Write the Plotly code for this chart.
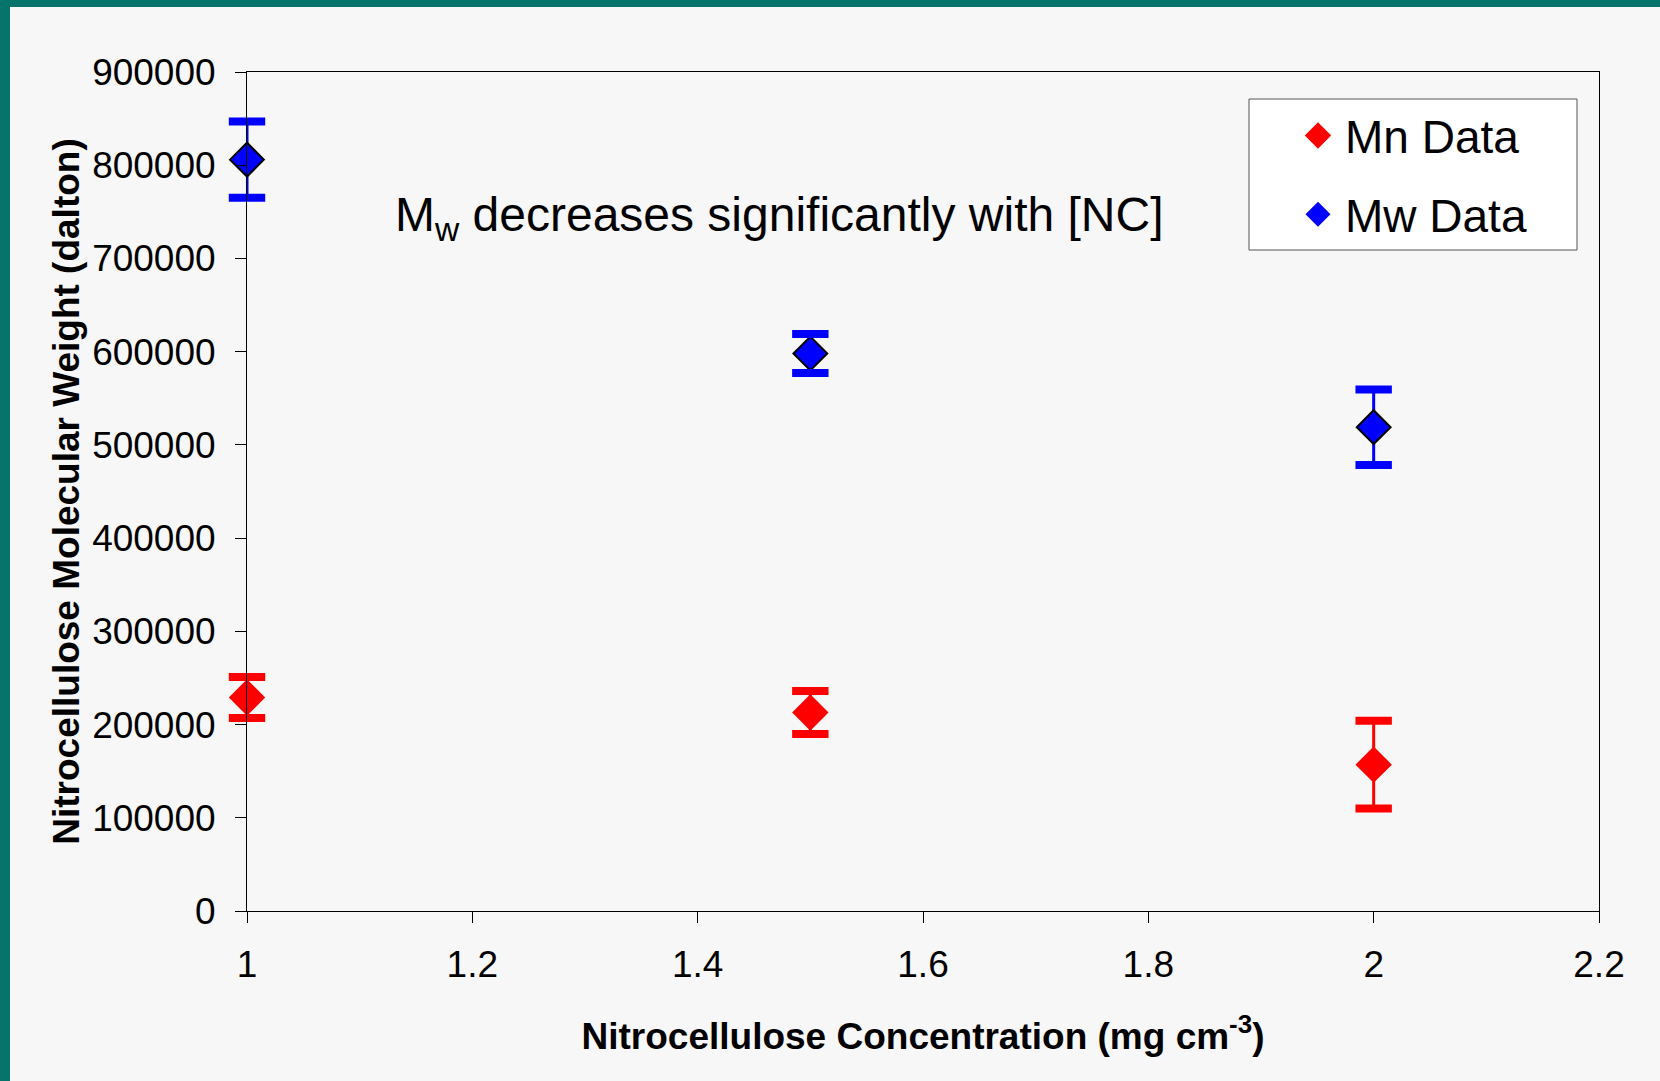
import plotly.graph_objects as go

# Nitrocellulose concentration (mg cm^-3)
conc = [1.0, 1.5, 2.0]

# Number-average molecular weight (dalton) and its error
mn = [229000, 213000, 157000]
mn_err = [22000, 23000, 47000]

# Weight-average molecular weight (dalton) and its error
mw = [806000, 598000, 519000]
mw_err = [41000, 21000, 40500]

x_ticks = [1.0, 1.2, 1.4, 1.6, 1.8, 2.0, 2.2]
x_tick_text = ["1", "1.2", "1.4", "1.6", "1.8", "2", "2.2"]
y_ticks = [0, 100000, 200000, 300000, 400000, 500000, 600000, 700000, 800000, 900000]

FONT = "Arial, Liberation Sans, sans-serif"
RED = "#ff0000"
BLUE = "#0000ff"
BG = "#f7f7f7"
TEAL = "#05756b"

# plot area geometry in pixels, used to place paper-referenced boxes
W, H = 1660, 1081
ML, MR, MT, MB = 247, 61, 72, 170
PW, PH = W - ML - MR, H - MT - MB


def px_x(px):
    return (px - ML) / PW


def px_y(py):
    return (H - MB - py) / PH


fig = go.Figure()


def add_series(y, err, color, outline, name):
    # diamonds with thin error stems
    fig.add_trace(go.Scatter(
        x=conc, y=y, mode="markers", name=name, showlegend=False,
        cliponaxis=False,
        marker=dict(symbol="diamond", size=26 if outline else 28, color=color,
                    line=dict(color="black" if outline else color,
                              width=2 if outline else 0)),
        error_y=dict(type="data", array=err, visible=True, color=color,
                     thickness=3, width=0),
    ))
    # heavy caps at the ends of each error bar
    caps_y = [v + e for v, e in zip(y, err)] + [v - e for v, e in zip(y, err)]
    fig.add_trace(go.Scatter(
        x=conc + conc, y=caps_y, mode="markers", showlegend=False,
        hoverinfo="skip", cliponaxis=False,
        marker=dict(symbol="line-ew", size=26, color=color,
                    line=dict(color=color, width=8)),
    ))
    # legend entry
    fig.add_trace(go.Scatter(
        x=[None], y=[None], mode="markers", name=name, legendgroup=name,
        marker=dict(symbol="diamond", size=16, color=color,
                    line=dict(color=color, width=4 if not outline else 3)),
    ))


add_series(mn, mn_err, RED, False, "Mn Data")
add_series(mw, mw_err, BLUE, True, "Mw Data")

fig.add_annotation(
    xref="paper", yref="paper", x=0.3935, y=0.826,
    xanchor="center", yanchor="middle", showarrow=False,
    text="M<sub>w</sub> decreases significantly with [NC]",
    font=dict(family=FONT, size=48, color="black"),
)

# slide background with teal frame on top and left
fig.add_shape(type="rect", xref="paper", yref="paper",
              x0=px_x(10), x1=px_x(W + 5),
              y0=px_y(H + 5), y1=px_y(7),
              fillcolor=BG, line=dict(width=0), layer="below")

# legend frame
fig.add_shape(type="rect", xref="paper", yref="paper",
              x0=px_x(1249), x1=px_x(1577),
              y0=px_y(250), y1=px_y(99),
              fillcolor="white", line=dict(color="#555555", width=1),
              layer="above")

axis_common = dict(
    showline=True, linecolor="black", linewidth=1, mirror=True,
    ticks="outside", ticklen=11, tickwidth=1, tickcolor="black",
    showgrid=False, zeroline=False,
    tickfont=dict(family=FONT, size=37, color="black"),
)

fig.update_xaxes(
    range=[1.0, 2.2], tickvals=x_ticks, ticktext=x_tick_text,
    ticklabelstandoff=10,
    title=dict(text="Nitrocellulose Concentration (mg cm<sup>-3</sup>)",
               font=dict(family=FONT, size=37, color="black", weight="bold"),
               standoff=38),
    **axis_common,
)
fig.update_yaxes(
    range=[0, 900000], tickvals=y_ticks, tickformat="d",
    ticklabelstandoff=12,
    title=dict(text="Nitrocellulose Molecular Weight (dalton)",
               font=dict(family=FONT, size=37, color="black", weight="bold"),
               standoff=1),
    **axis_common,
)

fig.update_layout(
    width=W, height=H,
    margin=dict(l=ML, r=MR, t=MT, b=MB, pad=0),
    paper_bgcolor=TEAL, plot_bgcolor=BG,
    font=dict(family=FONT, color="black"),
    legend=dict(
        x=px_x(1249), y=px_y(99), xanchor="left", yanchor="top",
        bgcolor="rgba(0,0,0,0)", borderwidth=0,
        font=dict(family=FONT, size=46, color="black"),
        traceorder="grouped", tracegroupgap=16,
        itemwidth=44, indentation=42,
    ),
)

fig.write_html("out.html")
